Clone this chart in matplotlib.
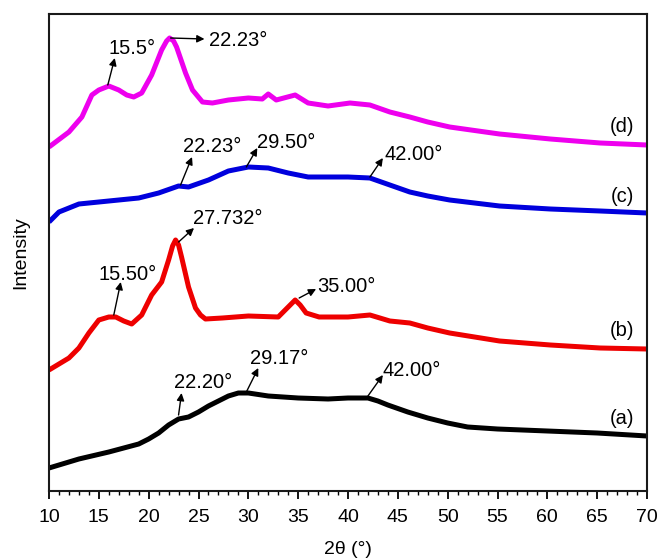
import matplotlib
matplotlib.use("Agg")
import matplotlib.pyplot as plt
from matplotlib.ticker import MultipleLocator

plt.rcParams['font.family'] = ['Liberation Sans', 'DejaVu Sans']

# ---- data (2θ in degrees, intensity in arbitrary stacked units) ----
a_x = [10, 13, 16, 19, 20, 21, 22, 23, 24, 25, 26, 27, 28, 29, 30, 32, 35, 38, 40, 42, 43, 44, 46, 48, 50, 52, 55, 60, 65, 70]
a_y = [23, 32, 39, 47, 52, 58, 66, 72, 74, 79, 85, 90, 95, 98, 98, 95, 93, 92, 93, 93, 90, 86, 79, 73, 68, 64, 62, 60, 58, 55]

b_x = [10, 12, 13, 14, 15, 16, 16.7, 17.5, 18.3, 19.3, 20.3, 21.3, 22, 22.4, 22.7, 23.0, 23.3, 24, 24.7, 25.2, 25.7, 27.4, 30, 33,
       34, 34.7, 35.2, 35.8, 37.1, 40, 42.2, 44.2, 46.2, 48, 50.2, 55.2, 60.3, 65.3, 70]
b_y = [121, 133, 143, 158, 171, 174, 174, 170, 167, 176, 196, 209, 231, 245, 251, 246, 234, 204, 183, 176, 172, 173, 175, 174,
       184, 191, 186, 178, 174, 174, 176, 170, 168, 163, 158, 150, 146, 143, 142]

c_x = [10, 11, 13, 16, 19, 21, 23, 24, 26, 28, 30, 32, 34, 36, 38, 40, 42.2, 44.2, 46.2, 48, 50.2, 55.2, 60.3, 65.3, 70]
c_y = [269, 279, 287, 290, 293, 298, 305, 304, 311, 320, 324, 323, 318, 314, 314, 314, 313, 306, 299, 295, 291, 285, 282, 280, 278]

d_x = [10, 12, 13.3, 14.3, 15, 16, 17, 17.8, 18.5, 19.3, 20.3, 21.3, 21.8, 22.1, 22.5, 22.8, 23.7, 24.4, 25.4, 26.4, 28, 30, 31.4,
       32, 32.8, 34.7, 36, 38, 40.2, 42.2, 44.2, 46.2, 48, 50.2, 55.2, 60.3, 65.3, 70]
d_y = [344, 359, 374, 396, 401, 405, 401, 396, 394, 398, 416, 441, 450, 453, 450, 444, 418, 401, 389, 388, 391, 393, 392,
       397, 391, 396, 388, 385, 388, 386, 379, 374, 369, 364, 357, 352, 348, 346]

series_labels = ['(a)', '(b)', '(c)', '(d)']
series_colors = ['#000000', '#ee0000', '#0000dd', '#ee00ee']

# peak annotations: label, text position, arrow tail (on curve), arrow head
peak_labels = ['15.5°', '22.23°', '22.23°', '29.50°', '42.00°', '15.50°', '27.732°', '35.00°',
               '22.20°', '29.17°', '42.00°']
peak_text_xy = [(16.0, 443), (26.05, 451), (23.4, 344), (30.9, 348), (43.7, 336), (15.0, 216), (24.45, 273),
                (36.9, 204), (22.5, 108), (30.2, 133), (43.5, 121)]
peak_tail_xy = [(15.9, 406), (22.2, 453), (23.2, 306), (29.8, 324), (42.2, 314), (16.5, 176), (23.0, 249),
                (35.1, 193), (23.0, 76), (29.8, 99), (42.0, 95)]
peak_head_xy = [(16.6, 433), (25.6, 452), (24.35, 334), (30.9, 343), (43.5, 333), (17.2, 209), (24.55, 263),
                (36.8, 202), (23.3, 98), (31.0, 123), (43.5, 116)]

label_xy = [(67.5, 73), (67.5, 161), (67.5, 294), (67.5, 364)]

# ---- figure ----
fig = plt.figure(figsize=(6.57, 5.59), dpi=100)
ax = fig.add_axes([49 / 657, 1 - 491 / 559, 598 / 657, 477 / 559])

for xs, ys, col in zip([a_x, b_x, c_x, d_x], [a_y, b_y, c_y, d_y], series_colors):
    ax.plot(xs, ys, color=col, lw=3.6, solid_joinstyle='round', solid_capstyle='butt')

for lab, (tx, ty) in zip(series_labels, label_xy):
    ax.text(tx, ty, lab, fontsize=14.5, ha='center', va='center')

for lab, txy, tail, head in zip(peak_labels, peak_text_xy, peak_tail_xy, peak_head_xy):
    ax.annotate('', xy=head, xytext=tail,
                arrowprops=dict(arrowstyle='-|>', color='black', lw=1, mutation_scale=11,
                                shrinkA=0, shrinkB=0))
    ax.text(txy[0], txy[1], lab, fontsize=14.5, ha='left', va='center')

ax.set_xlim(10, 70)
ax.set_ylim(0, 477)
ax.xaxis.set_major_locator(MultipleLocator(5))
ax.xaxis.set_minor_locator(MultipleLocator(1))
ax.tick_params(axis='x', which='major', direction='out', length=6, width=1.3, labelsize=14, pad=7)
ax.tick_params(axis='x', which='minor', direction='out', length=3, width=1.0)
ax.set_yticks([])
for sp in ax.spines.values():
    sp.set_linewidth(1.5)
    sp.set_color('#1a1a1a')

ax.set_xlabel('2θ (°)', fontsize=14, labelpad=11)
ax.set_ylabel('Intensity', fontsize=14, labelpad=14)

fig.savefig('out.png', dpi=100)
